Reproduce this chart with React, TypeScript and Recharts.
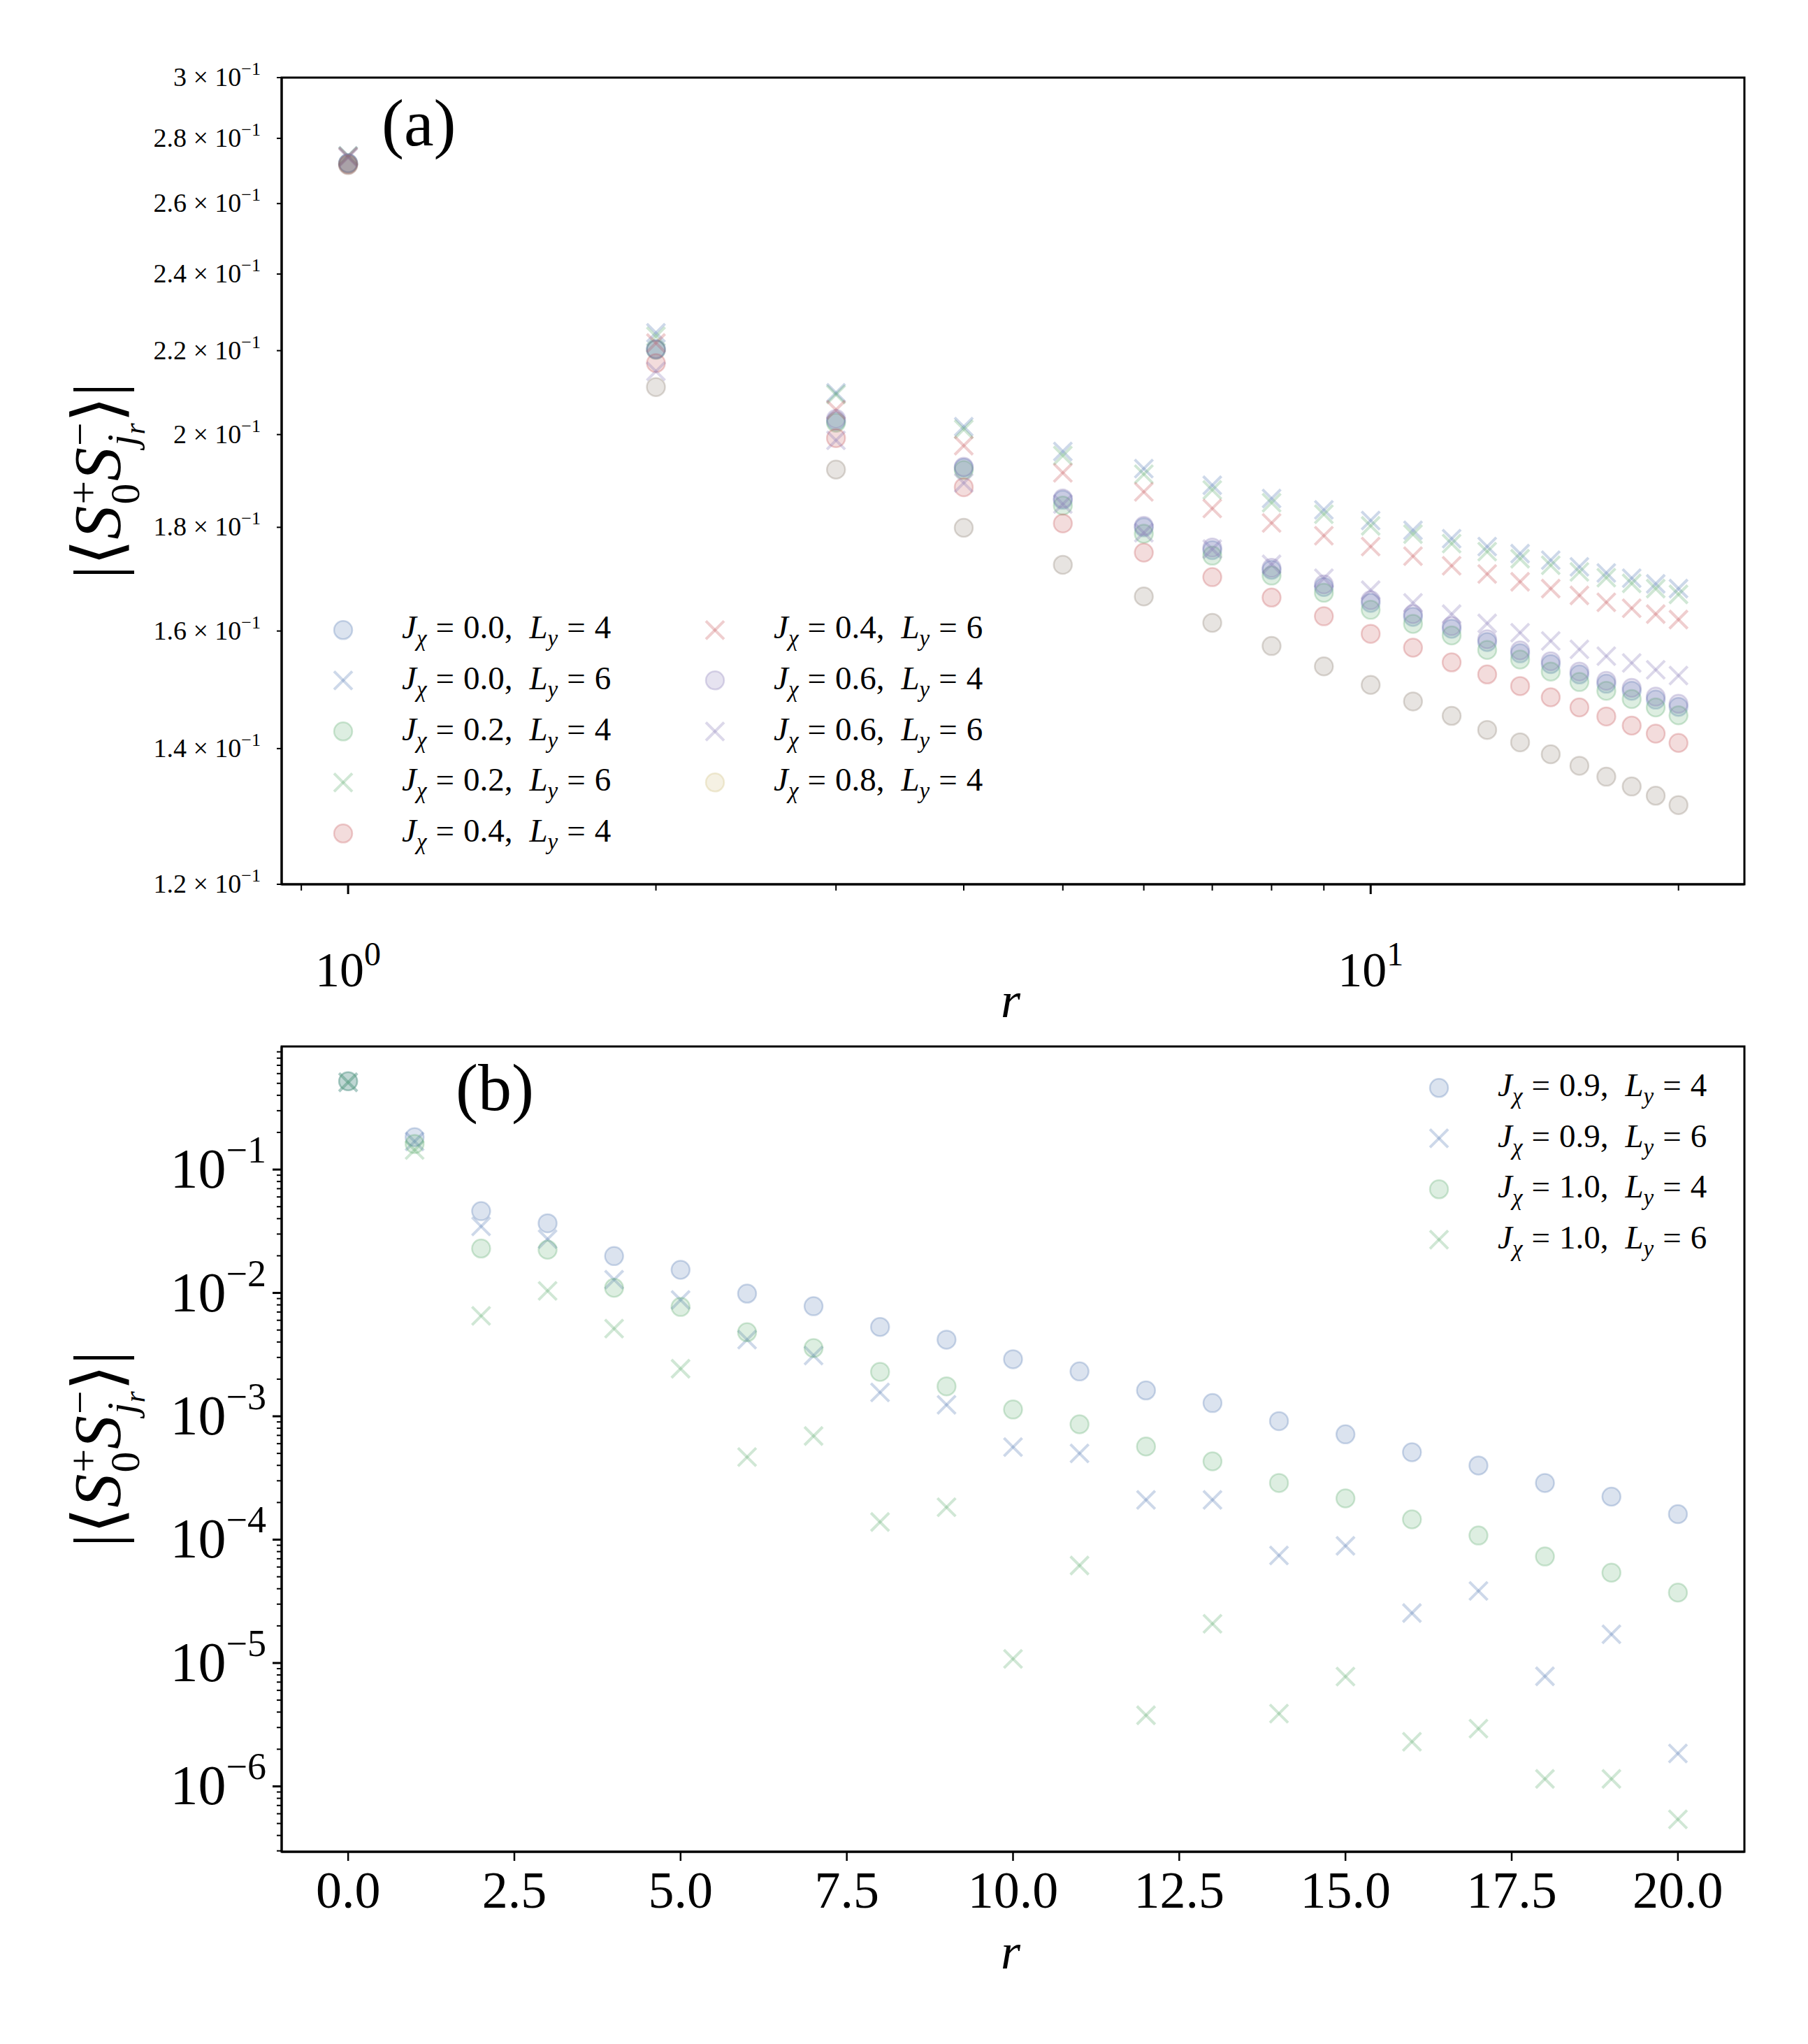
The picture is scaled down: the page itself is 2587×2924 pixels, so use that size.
import { ScatterChart, Scatter, XAxis, YAxis, ReferenceArea } from 'recharts'

// panel (a): log-log, r = 1..20
const R_A = [1, 2, 3, 4, 5, 6, 7, 8, 9, 10, 11, 12, 13, 14, 15, 16, 17, 18, 19, 20]
const J00_L4 = [0.2722, 0.2204, 0.2031, 0.1926, 0.1857, 0.18, 0.1754, 0.1715, 0.1682, 0.1652, 0.1626, 0.1604, 0.158, 0.156, 0.1541, 0.1523, 0.1507, 0.1495, 0.148, 0.1468]
const J00_L6 = [0.2745, 0.2245, 0.2097, 0.2018, 0.1962, 0.1924, 0.1888, 0.186, 0.1836, 0.1814, 0.1794, 0.1777, 0.1761, 0.1747, 0.1734, 0.1721, 0.1709, 0.1699, 0.1688, 0.1679]
const J02_L4 = [0.2721, 0.2202, 0.2027, 0.1921, 0.1845, 0.1787, 0.1743, 0.1704, 0.1671, 0.1639, 0.1613, 0.1592, 0.1566, 0.1549, 0.1528, 0.151, 0.1495, 0.1481, 0.1467, 0.1454]
const J02_L6 = [0.2744, 0.2236, 0.2093, 0.2012, 0.1953, 0.1912, 0.1878, 0.1851, 0.1827, 0.1803, 0.1786, 0.1767, 0.1751, 0.1737, 0.1724, 0.1711, 0.17, 0.1689, 0.1679, 0.1668]
const J04_L4 = [0.2718, 0.2169, 0.1992, 0.1884, 0.1808, 0.1749, 0.1701, 0.1662, 0.1627, 0.1595, 0.157, 0.1544, 0.1523, 0.1503, 0.1484, 0.1467, 0.1452, 0.1437, 0.1424, 0.1409]
const J04_L6 = [0.2742, 0.2219, 0.2057, 0.1975, 0.1915, 0.1874, 0.1839, 0.1809, 0.1783, 0.1761, 0.1742, 0.1723, 0.1707, 0.1692, 0.1679, 0.1666, 0.1653, 0.1642, 0.1631, 0.1621]
const J06_L4 = [0.2722, 0.2203, 0.2036, 0.1928, 0.186, 0.1803, 0.1759, 0.1719, 0.1687, 0.1657, 0.1631, 0.1609, 0.1585, 0.1565, 0.1546, 0.1528, 0.1512, 0.15, 0.1485, 0.1473]
const J06_L6 = [0.274, 0.2149, 0.1987, 0.1893, 0.1848, 0.1789, 0.1756, 0.1726, 0.1699, 0.1676, 0.1652, 0.1631, 0.1614, 0.1597, 0.1582, 0.1567, 0.1555, 0.1543, 0.1531, 0.1521]
const J08_L4 = [0.2716, 0.2111, 0.1922, 0.1799, 0.1725, 0.1664, 0.1615, 0.1573, 0.1537, 0.1505, 0.1477, 0.1453, 0.143, 0.141, 0.1391, 0.1373, 0.1356, 0.1341, 0.1327, 0.1313]

// panel (b): semilog, r = 0..20
const R_B = [0, 1, 2, 3, 4, 5, 6, 7, 8, 9, 10, 11, 12, 13, 14, 15, 16, 17, 18, 19, 20]
const J09_L4 = [0.52, 0.183, 0.046, 0.0367, 0.0199, 0.0154, 0.00987, 0.0078, 0.0053, 0.00418, 0.0029, 0.00231, 0.00162, 0.00128, 0.000914, 0.000714, 0.000511, 0.000399, 0.000288, 0.000223, 0.000161]
const J09_L6 = [0.51, 0.169, 0.0346, 0.0273, 0.0128, 0.00877, 0.00418, 0.00311, 0.00156, 0.00124, 0.000562, 0.0005, 0.00021, 0.00021, 7.45e-5, 8.9e-5, 2.54e-5, 3.84e-5, 7.8e-6, 1.71e-5, 1.85e-6]
const J10_L4 = [0.52, 0.161, 0.0229, 0.0224, 0.011, 0.0077, 0.0048, 0.00357, 0.00229, 0.00175, 0.001135, 0.000861, 0.000569, 0.000431, 0.000288, 0.000216, 0.000146, 0.000108, 7.3e-5, 5.4e-5, 3.72e-5]
const J10_L6 = [0.51, 0.144, 0.00652, 0.0104, 0.00514, 0.00243, 0.000467, 0.000692, 0.000139, 0.000183, 1.08e-5, 6.17e-5, 3.77e-6, 2.08e-5, 3.89e-6, 7.76e-6, 2.3e-6, 2.94e-6, 1.15e-6, 1.15e-6, 5.4e-7]

const X_TICKS_A = [0.9, 1, 2, 3, 4, 5, 6, 7, 8, 9, 10, 20]
const Y_TICKS_A = [0.12, 0.14, 0.16, 0.18, 0.2, 0.22, 0.24, 0.26, 0.28, 0.3]
const X_TICKS_B = [0, 2.5, 5, 7.5, 10, 12.5, 15, 17.5, 20]
const Y_MAJOR_B = [1e-6, 1e-5, 1e-4, 1e-3, 1e-2, 1e-1]
const Y_MINOR_B = [-7, -6, -5, -4, -3, -2, -1].flatMap(e => [2, 3, 4, 5, 6, 7, 8, 9].map(k => k * Math.pow(10, e)))

const BLUE = '#4C72B0'
const GREEN = '#55A868'
const RED = '#C44E52'
const PURPLE = '#8172B2'
const KHAKI = '#CCB974'
const TAUPE = '#857868'

const SERIF = '"Liberation Serif", "DejaVu Serif", serif'
const XDOM_A: [number, number] = [0.861, 23.2]
const YDOM_A: [number, number] = [0.12, 0.3]
const XDOM_B: [number, number] = [-1, 21]
const YDOM_B: [number, number] = [2.95e-7, 0.995]

const pts = (xs: number[], ys: number[]) => xs.map((r, i) => ({ r, v: ys[i] }))

function Circ({ cx, cy, color }: any) {
  if (cx == null || cy == null) return null
  return <circle cx={cx} cy={cy} r={13} fill={color} fillOpacity={0.2} stroke={color} strokeOpacity={0.28} strokeWidth={2.5} />
}
function Cross({ cx, cy, color }: any) {
  if (cx == null || cy == null) return null
  const s = 13
  return (
    <g stroke={color} strokeOpacity={0.28} strokeWidth={4}>
      <line x1={cx - s} y1={cy - s} x2={cx + s} y2={cy + s} />
      <line x1={cx - s} y1={cy + s} x2={cx + s} y2={cy - s} />
    </g>
  )
}

const SERIES_A = [
  { y: J00_L4, color: BLUE, m: 'o', label: ['0.0', '4'] },
  { y: J00_L6, color: BLUE, m: 'x', label: ['0.0', '6'] },
  { y: J02_L4, color: GREEN, m: 'o', label: ['0.2', '4'] },
  { y: J02_L6, color: GREEN, m: 'x', label: ['0.2', '6'] },
  { y: J04_L4, color: RED, m: 'o', label: ['0.4', '4'] },
  { y: J04_L6, color: RED, m: 'x', label: ['0.4', '6'] },
  { y: J06_L4, color: PURPLE, m: 'o', label: ['0.6', '4'] },
  { y: J06_L6, color: PURPLE, m: 'x', label: ['0.6', '6'] },
  { y: J08_L4, color: TAUPE, m: 'o', label: ['0.8', '4'], legendColor: KHAKI },
]
const SERIES_B = [
  { y: J09_L4, color: BLUE, m: 'o', label: ['0.9', '4'] },
  { y: J09_L6, color: BLUE, m: 'x', label: ['0.9', '6'] },
  { y: J10_L4, color: GREEN, m: 'o', label: ['1.0', '4'] },
  { y: J10_L6, color: GREEN, m: 'x', label: ['1.0', '6'] },
]

function XTickA({ x, y, payload }: any) {
  const v = payload.value
  const major = v === 1 || v === 10
  return (
    <g>
      <line x1={x} x2={x} y1={y} y2={y + (major ? 14 : 9)} stroke="#000" strokeWidth={major ? 3 : 2} />
      {major && (
        <text x={x} y={y + 146} textAnchor="middle" fontSize={70} fontFamily={SERIF}>
          10<tspan dy={-30} fontSize={48}>{v === 1 ? '0' : '1'}</tspan>
        </text>
      )}
    </g>
  )
}
function YTickA({ x, y, payload }: any) {
  const m = (payload.value * 10).toFixed(1).replace(/\.0$/, '')
  return (
    <g>
      <line x1={x} x2={x - 7} y1={y} y2={y} stroke="#000" strokeWidth={2} />
      <text x={x - 30} y={y + 12} textAnchor="end" fontSize={38} fontFamily={SERIF}>
        {m} × 10<tspan dy={-16} fontSize={26}>−1</tspan>
      </text>
    </g>
  )
}
function XTickB({ x, y, payload }: any) {
  return (
    <g>
      <line x1={x} x2={x} y1={y} y2={y + 13} stroke="#000" strokeWidth={2.5} />
      <text x={x} y={y + 80} textAnchor="middle" fontSize={74} fontFamily={SERIF}>
        {payload.value.toFixed(1)}
      </text>
    </g>
  )
}
function YTickB({ x, y, payload }: any) {
  const v = payload.value
  const e = Math.round(Math.log10(v))
  const major = Math.abs(v - Math.pow(10, e)) < 1e-12 * Math.pow(10, e) + 1e-20
  return (
    <g>
      <line x1={x} x2={x - (major ? 13 : 7)} y1={y} y2={y} stroke="#000" strokeWidth={major ? 3 : 2} />
      {major && (
        <text x={x - 22} y={y + 26} textAnchor="end" fontSize={80} fontFamily={SERIF}>
          10<tspan dy={-36} fontSize={54}>{'−' + Math.abs(e)}</tspan>
        </text>
      )}
    </g>
  )
}

function LegendLabel({ j, l }: { j: string; l: string }) {
  return (
    <span style={{ fontFamily: SERIF, fontSize: 47, whiteSpace: 'nowrap' }}>
      <i>J</i>
      <sub style={{ fontSize: 33 }}><i>χ</i></sub>
      <span style={{ margin: '0 13px' }}>=</span>
      {j},<span style={{ marginLeft: 24 }} /><i>L</i>
      <sub style={{ fontSize: 33 }}><i>y</i></sub>
      <span style={{ margin: '0 13px' }}>=</span>
      {l}
    </span>
  )
}
function LegendMark({ m, color }: { m: string; color: string }) {
  return (
    <svg width={32} height={32} style={{ verticalAlign: 'middle' }}>
      {m === 'o' ? <Circ cx={16} cy={16} color={color} /> : <Cross cx={16} cy={16} color={color} />}
    </svg>
  )
}
function LegendItem({ s, x, y }: any) {
  return (
    <div style={{ position: 'absolute', left: x, top: y, display: 'flex', alignItems: 'center', transform: 'translateY(-50%)' }}>
      <LegendMark m={s.m} color={s.legendColor || s.color} />
      <div style={{ marginLeft: 68 }}>
        <LegendLabel j={s.label[0]} l={s.label[1]} />
      </div>
    </div>
  )
}

function YLabel({ x, y }: { x: number; y: number }) {
  const stack = (top: string, bot: any) => (
    <span style={{ display: 'inline-flex', flexDirection: 'column', verticalAlign: 'middle', fontSize: '0.62em', lineHeight: 1, marginLeft: 2 }}>
      <span>{top}</span>
      <span>{bot}</span>
    </span>
  )
  return (
    <div
      style={{
        position: 'absolute', left: x, top: y, transform: 'translate(-50%, -50%) rotate(-90deg)',
        fontFamily: SERIF, fontSize: 96, whiteSpace: 'nowrap', lineHeight: 1,
      }}
    >
      |⟨<i>S</i>{stack('+', '0')}<i>S</i>{stack('−', <i>j<sub style={{ fontSize: '0.7em' }}>r</sub></i>)}⟩|
    </div>
  )
}

export default function App() {
  return (
    <div style={{ position: 'absolute', left: 0, top: 0, width: 2587, height: 2924, background: '#fff' }}>
      <div style={{ position: 'absolute', left: 0, top: 0 }}>
        <ScatterChart width={2587} height={1430} margin={{ top: 111, right: 91, bottom: 0, left: 0 }}>
          <XAxis
            dataKey="r" type="number" scale="log" domain={XDOM_A} allowDataOverflow ticks={X_TICKS_A} interval={0}
            tick={<XTickA />} tickLine={false} tickSize={0} tickMargin={0} height={165}
            axisLine={{ stroke: '#000', strokeWidth: 3 }}
          />
          <YAxis
            dataKey="v" type="number" scale="log" domain={YDOM_A} allowDataOverflow ticks={Y_TICKS_A} interval={0}
            tick={<YTickA />} tickLine={false} tickSize={0} tickMargin={0} width={403}
            axisLine={{ stroke: '#000', strokeWidth: 3 }}
          />
          <ReferenceArea x1={XDOM_A[0]} x2={XDOM_A[1]} y1={YDOM_A[0]} y2={YDOM_A[1]} fill="none" stroke="#000" strokeWidth={3} ifOverflow="visible" />
          {SERIES_A.map((s, i) => (
            <Scatter
              key={i} data={pts(R_A, s.y)} isAnimationActive={false}
              shape={(p: any) => (s.m === 'o' ? <Circ cx={p.cx} cy={p.cy} color={s.color} /> : <Cross cx={p.cx} cy={p.cy} color={s.color} />)}
            />
          ))}
        </ScatterChart>
      </div>
      <div style={{ position: 'absolute', left: 0, top: 1380 }}>
        <ScatterChart width={2587} height={1544} margin={{ top: 117, right: 91, bottom: 0, left: 0 }}>
          <XAxis
            dataKey="r" type="number" domain={XDOM_B} allowDataOverflow ticks={X_TICKS_B} interval={0}
            tick={<XTickB />} tickLine={false} tickSize={0} tickMargin={0} height={275}
            axisLine={{ stroke: '#000', strokeWidth: 3 }}
          />
          <YAxis
            dataKey="v" type="number" scale="log" domain={YDOM_B} allowDataOverflow ticks={[...Y_MINOR_B.filter(v => v > YDOM_B[0] && v < YDOM_B[1]), ...Y_MAJOR_B]} interval={0}
            tick={<YTickB />} tickLine={false} tickSize={0} tickMargin={0} width={403}
            axisLine={{ stroke: '#000', strokeWidth: 3 }}
          />
          <ReferenceArea x1={XDOM_B[0]} x2={XDOM_B[1]} y1={YDOM_B[0]} y2={YDOM_B[1]} fill="none" stroke="#000" strokeWidth={3} ifOverflow="visible" />
          {SERIES_B.map((s, i) => (
            <Scatter
              key={i} data={pts(R_B, s.y)} isAnimationActive={false}
              shape={(p: any) => (s.m === 'o' ? <Circ cx={p.cx} cy={p.cy} color={s.color} /> : <Cross cx={p.cx} cy={p.cy} color={s.color} />)}
            />
          ))}
        </ScatterChart>
      </div>

      {/* panel labels */}
      <div style={{ position: 'absolute', left: 546, top: 120, fontFamily: SERIF, fontSize: 96 }}>(a)</div>
      <div style={{ position: 'absolute', left: 652, top: 1500, fontFamily: SERIF, fontSize: 96 }}>(b)</div>

      {/* axis titles */}
      <YLabel x={150} y={688} />
      <YLabel x={150} y={2073} />
      <div style={{ position: 'absolute', left: 1446, top: 1431, transform: 'translate(-50%, -50%)', fontFamily: SERIF, fontSize: 72, fontStyle: 'italic' }}>r</div>
      <div style={{ position: 'absolute', left: 1446, top: 2792, transform: 'translate(-50%, -50%)', fontFamily: SERIF, fontSize: 72, fontStyle: 'italic' }}>r</div>

      {/* legends */}
      {SERIES_A.map((s, i) => (
        <LegendItem key={i} s={s} x={i < 5 ? 475 : 1007} y={901 + (i % 5) * 72.8} />
      ))}
      {SERIES_B.map((s, i) => (
        <LegendItem key={i} s={s} x={2043} y={1556 + i * 72.6} />
      ))}
    </div>
  )
}
